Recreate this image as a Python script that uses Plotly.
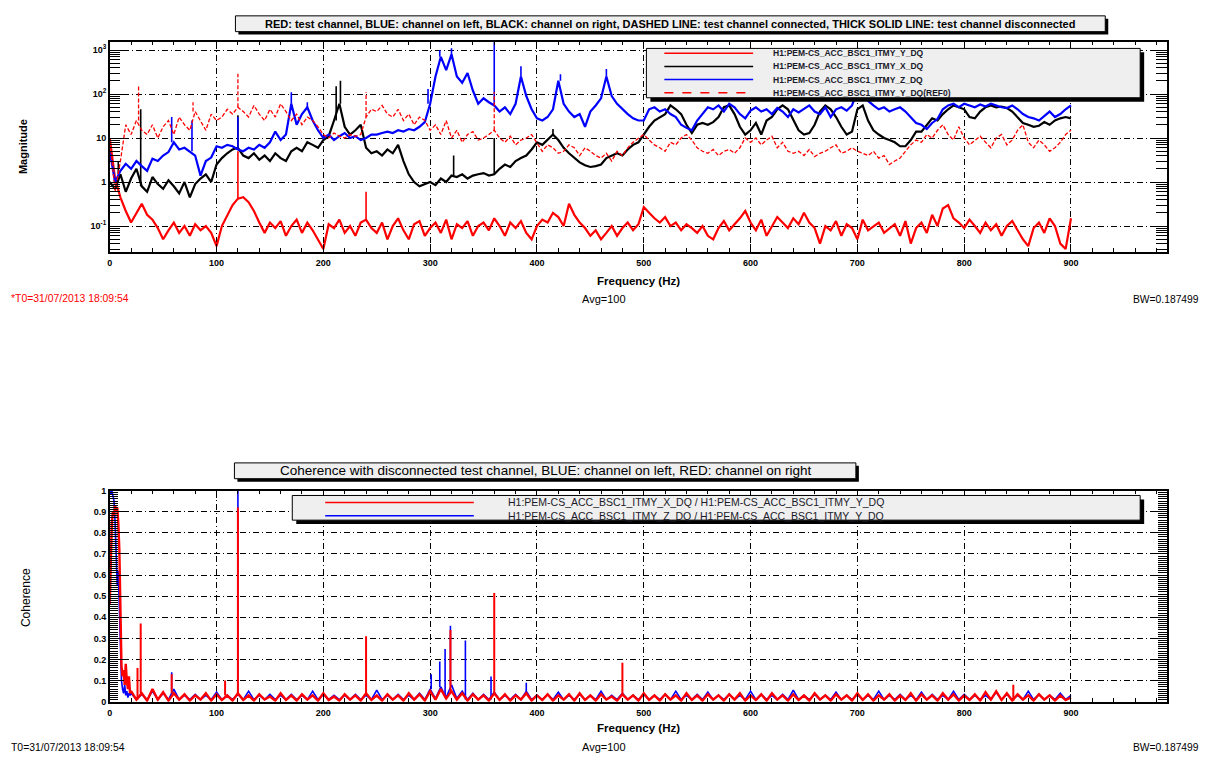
import numpy as np
import plotly.graph_objects as go

W, H = 1210, 761

# ---------------- magnitude spectra (values every 5 Hz, 0..900 Hz) ----------------
freq = list(range(0, 901, 5))

# H1:PEM-CS_ACC_BSC1_ITMY_Y_DQ, test channel disconnected
mag_y = [10, 1.2, 0.45, 0.22, 0.12, 0.2, 0.32, 0.18, 0.14, 0.09,
         0.05, 0.08, 0.12, 0.07, 0.1, 0.06, 0.11, 0.08, 0.1, 0.07,
         0.035, 0.1, 0.18, 0.3, 0.42, 0.45, 0.35, 0.22, 0.12, 0.07,
         0.12, 0.09, 0.13, 0.06, 0.1, 0.14, 0.07, 0.12, 0.08, 0.05,
         0.03, 0.11, 0.09, 0.14, 0.07, 0.1, 0.06, 0.12, 0.14, 0.09,
         0.07, 0.12, 0.05, 0.1, 0.15, 0.08, 0.05, 0.11, 0.13, 0.06,
         0.09, 0.12, 0.07, 0.14, 0.05, 0.11, 0.09, 0.13, 0.06, 0.1,
         0.12, 0.08, 0.15, 0.1, 0.06, 0.12, 0.09, 0.13, 0.07, 0.05,
         0.1, 0.14, 0.12, 0.2, 0.16, 0.1, 0.32, 0.18, 0.12, 0.09,
         0.06, 0.08, 0.05, 0.07, 0.1, 0.06, 0.09, 0.12, 0.08, 0.11,
         0.27, 0.2, 0.15, 0.12, 0.16, 0.1, 0.12, 0.08, 0.11, 0.09,
         0.07, 0.1, 0.06, 0.05, 0.09, 0.13, 0.08, 0.11, 0.15, 0.22,
         0.12, 0.08, 0.14, 0.06, 0.1, 0.16, 0.12, 0.09, 0.15, 0.11,
         0.2, 0.12, 0.09, 0.04, 0.1, 0.08, 0.13, 0.06, 0.11, 0.09,
         0.05, 0.14, 0.08, 0.1, 0.12, 0.07, 0.09, 0.11, 0.06, 0.13,
         0.04, 0.09, 0.12, 0.07, 0.18, 0.1, 0.25, 0.3, 0.15, 0.12,
         0.09, 0.14, 0.1, 0.07, 0.12, 0.08, 0.11, 0.06, 0.1, 0.13,
         0.08, 0.05, 0.035, 0.09, 0.12, 0.07, 0.15, 0.1, 0.04, 0.03,
         0.15]

# H1:PEM-CS_ACC_BSC1_ITMY_X_DQ (channel on right)
mag_x = [1.0, 0.7, 1.5, 0.6, 1.2, 2.0, 0.8, 0.6, 1.3, 0.9,
         0.7, 1.1, 0.8, 0.55, 1.0, 0.45, 0.9, 1.2, 1.5, 1.0,
         2.5, 3.5, 4.5, 5.5, 6.0, 4.0, 3.5, 4.5, 3.2, 4.0,
         3.0, 4.5, 3.5, 3.0, 5.0, 6.0, 5.0, 8.0, 7.0, 6.0,
         9.0, 11, 25, 60, 18, 12, 15, 20, 6.0, 4.5,
         5.0, 4.0, 5.5, 4.5, 7.0, 3.0, 1.5, 1.0, 0.8, 0.9,
         1.0, 0.85, 1.2, 1.0, 1.4, 1.3, 1.5, 1.2, 1.4, 1.5,
         1.6, 1.4, 1.5, 2.0, 2.5, 2.2, 3.0, 3.5, 4.0, 5.5,
         8.0, 7.0, 9.0, 12, 9.0, 6.0, 4.5, 3.5, 2.8, 2.4,
         2.2, 2.3, 2.5, 3.5, 4.0, 4.5, 4.0, 5.5, 7.0, 8.0,
         12, 18, 25, 30, 35, 55, 45, 35, 20, 13,
         20, 22, 20, 23, 30, 50, 55, 35, 18, 12,
         15, 22, 12, 25, 30, 45, 55, 45, 25, 15,
         12, 13, 20, 40, 55, 45, 30, 18, 12, 14,
         45, 55, 25, 15, 12, 10, 9.0, 8.0, 6.5, 6.5,
         9.0, 14, 14, 20, 28, 25, 35, 45, 55, 50,
         45, 30, 28, 40, 50, 55, 50, 52, 48, 40,
         30, 22, 20, 18, 19, 23, 20, 25, 28, 30,
         28]

# H1:PEM-CS_ACC_BSC1_ITMY_Z_DQ (channel on left)
mag_z = [5.0, 1.0, 1.8, 2.6, 2.0, 3.0, 2.3, 1.8, 3.4, 3.0,
         4.0, 4.8, 8.0, 5.5, 6.0, 5.0, 4.0, 1.4, 3.0, 3.6,
         6.5, 6.0, 7.0, 6.5, 5.5, 5.0, 6.0, 5.5, 7.0, 6.0,
         8.0, 14, 9.0, 12, 60, 20, 35, 50, 25, 15,
         10, 12, 9.0, 11, 13, 10, 11, 9.0, 10, 12,
         12, 13, 14, 13, 15, 14, 16, 15, 18, 23,
         60, 250, 700, 350, 800, 250, 180, 300, 120, 60,
         80, 65, 55, 40, 50, 35, 60, 250, 90, 45,
         28, 25, 30, 45, 200, 60, 40, 30, 35, 18,
         40, 55, 80, 250, 90, 60, 45, 35, 28, 25,
         25, 45, 50, 40, 45, 35, 30, 20, 17, 15,
         25, 35, 50, 45, 55, 40, 60, 50, 35, 28,
         42, 50, 40, 45, 35, 48, 40, 30, 45, 38,
         45, 55, 40, 35, 50, 30, 45, 50, 42, 55,
         120, 90, 70, 55, 45, 50, 40, 45, 50, 40,
         30, 22, 20, 16, 22, 27, 45, 55, 60, 50,
         60, 55, 50, 58, 52, 60, 55, 50, 48, 55,
         45, 35, 30, 28, 25, 32, 40, 30, 35, 45,
         55]

# H1:PEM-CS_ACC_BSC1_ITMY_Y_DQ(REF0), test channel connected
mag_y_ref = [10, 0.6, 3.0, 20, 12, 25, 15, 12, 20, 10,
             18, 25, 12, 30, 20, 15, 40, 25, 15, 35,
             25, 30, 45, 35, 50, 40, 30, 55, 35, 25,
             45, 30, 60, 40, 25, 35, 20, 30, 25, 18,
             12, 10, 13, 11, 10, 12, 11, 12, 30, 45,
             40, 55, 35, 30, 45, 25, 35, 20, 30, 25,
             15, 20, 12, 25, 10, 15, 8.0, 12, 14, 9.0,
             10, 12, 15, 10, 8.0, 11, 7.0, 9.0, 10, 12,
             8.0, 5.0, 7.0, 6.0, 4.5, 5.0, 7.0, 6.0, 4.0, 6.0,
             5.0, 4.0, 3.5, 4.5, 3.0, 5.0, 4.0, 6.0, 8.0, 10,
             12, 9.0, 7.0, 6.0, 5.0, 8.0, 7.0, 10, 12, 9.0,
             6.0, 5.0, 4.5, 5.5, 4.0, 5.0, 5.5, 4.5, 6.0, 10,
             8.0, 10, 7.0, 9.0, 11, 6.0, 8.0, 5.0, 4.5, 5.0,
             4.0, 5.5, 3.8, 4.5, 5.0, 6.0, 7.0, 4.5, 5.0, 6.0,
             5.0, 4.5, 4.0, 5.0, 3.5, 4.0, 2.5, 3.0, 3.5, 5.0,
             7.0, 9.0, 8.0, 12, 10, 15, 20, 12, 9.0, 18,
             10, 7.0, 9.0, 11, 8.0, 6.0, 10, 12, 7.0, 9.0,
             15, 20, 8.0, 6.0, 9.0, 7.0, 5.0, 6.0, 8.0, 12,
             15]

# narrow spectral lines: (frequency Hz, peak magnitude)
lines_y = [(120, 5.0), (240, 0.6)]
lines_x = [(8, 3.0), (29, 45), (120, 33), (212, 150), (216, 200), (322, 4.0),
           (360, 10), (415, 16)]
lines_z = [(58, 30), (77, 25), (120, 30), (170, 110), (185, 65), (298, 130),
           (309, 1000), (320, 1100), (360, 1500), (385, 430), (422, 280), (465, 370)]
lines_y_ref = [(27, 150), (78, 65), (120, 290), (240, 110), (360, 110)]

# ---------------- coherence (1 Hz steps below 20 Hz, 5 Hz above) ----------------
coh_freq = list(range(0, 20)) + list(range(20, 901, 5))

# X_DQ / Y_DQ
coh_xy = [0.46, 0.65, 0.85, 0.9, 0.88, 0.93, 0.9, 0.92, 0.85, 0.72,
          0.45, 0.17, 0.12, 0.15, 0.08, 0.18, 0.1, 0.06, 0.12, 0.04,
          0.05, 0.01, 0.04, 0.005, 0.06, 0.01, 0.045, 0.005, 0.04, 0.01,
          0.035, 0.005, 0.03, 0.01, 0.04, 0.005, 0.035, 0.008, 0.03, 0.005,
          0.04, 0.008, 0.03, 0.005, 0.035, 0.01, 0.025, 0.005, 0.04, 0.008,
          0.03, 0.005, 0.035, 0.01, 0.03, 0.005, 0.04, 0.008, 0.025, 0.005,
          0.035, 0.01, 0.03, 0.005, 0.04, 0.008, 0.03, 0.005, 0.035, 0.01,
          0.03, 0.005, 0.04, 0.01, 0.035, 0.005, 0.05, 0.01, 0.06, 0.015,
          0.05, 0.01, 0.04, 0.005, 0.035, 0.01, 0.03, 0.005, 0.04, 0.008,
          0.035, 0.005, 0.03, 0.01, 0.04, 0.005, 0.03, 0.008, 0.035, 0.005,
          0.03, 0.01, 0.035, 0.005, 0.04, 0.008, 0.03, 0.005, 0.035, 0.01,
          0.025, 0.005, 0.035, 0.01, 0.03, 0.005, 0.04, 0.008, 0.03, 0.005,
          0.035, 0.01, 0.03, 0.005, 0.04, 0.008, 0.03, 0.005, 0.035, 0.01,
          0.03, 0.005, 0.035, 0.01, 0.04, 0.005, 0.03, 0.008, 0.035, 0.005,
          0.04, 0.01, 0.03, 0.005, 0.035, 0.008, 0.03, 0.005, 0.04, 0.01,
          0.03, 0.005, 0.035, 0.01, 0.03, 0.005, 0.04, 0.008, 0.035, 0.005,
          0.03, 0.01, 0.035, 0.005, 0.03, 0.008, 0.04, 0.005, 0.035, 0.01,
          0.03, 0.005, 0.04, 0.01, 0.035, 0.005, 0.03, 0.008, 0.035, 0.005,
          0.045, 0.01, 0.05, 0.008, 0.04, 0.005, 0.035, 0.01, 0.03, 0.005,
          0.035, 0.01, 0.03, 0.005, 0.03, 0.008, 0.02]

# Z_DQ / Y_DQ
coh_zy = [1.0, 0.98, 1.0, 0.97, 0.95, 0.85, 0.7, 0.55, 0.62, 0.4,
          0.2, 0.1, 0.06, 0.04, 0.08, 0.03, 0.05, 0.02, 0.04, 0.03,
          0.04, 0.01, 0.035, 0.01, 0.05, 0.01, 0.04, 0.01, 0.06, 0.01,
          0.03, 0.01, 0.035, 0.01, 0.03, 0.01, 0.045, 0.01, 0.03, 0.01,
          0.035, 0.01, 0.05, 0.01, 0.03, 0.01, 0.035, 0.01, 0.03, 0.01,
          0.035, 0.01, 0.03, 0.01, 0.05, 0.01, 0.035, 0.01, 0.03, 0.01,
          0.03, 0.01, 0.035, 0.01, 0.03, 0.01, 0.055, 0.01, 0.03, 0.01,
          0.035, 0.01, 0.03, 0.01, 0.04, 0.01, 0.06, 0.015, 0.07, 0.02,
          0.08, 0.015, 0.05, 0.01, 0.04, 0.01, 0.035, 0.01, 0.045, 0.01,
          0.03, 0.01, 0.035, 0.01, 0.05, 0.01, 0.03, 0.01, 0.035, 0.01,
          0.045, 0.01, 0.03, 0.01, 0.035, 0.01, 0.03, 0.01, 0.05, 0.01,
          0.03, 0.01, 0.04, 0.01, 0.03, 0.01, 0.035, 0.01, 0.03, 0.01,
          0.035, 0.01, 0.05, 0.01, 0.03, 0.01, 0.035, 0.01, 0.045, 0.01,
          0.03, 0.01, 0.035, 0.01, 0.03, 0.01, 0.05, 0.01, 0.035, 0.01,
          0.03, 0.01, 0.035, 0.01, 0.055, 0.01, 0.03, 0.01, 0.035, 0.01,
          0.03, 0.01, 0.045, 0.01, 0.03, 0.01, 0.035, 0.01, 0.03, 0.01,
          0.05, 0.01, 0.03, 0.01, 0.035, 0.01, 0.03, 0.01, 0.045, 0.01,
          0.035, 0.01, 0.03, 0.01, 0.05, 0.01, 0.035, 0.01, 0.03, 0.01,
          0.03, 0.01, 0.045, 0.01, 0.035, 0.01, 0.03, 0.01, 0.05, 0.01,
          0.035, 0.01, 0.03, 0.01, 0.04, 0.01, 0.03]

coh_lines_xy = [(26, 0.16), (29, 0.37), (58, 0.13), (108, 0.1), (120, 0.92),
                (240, 0.31), (319, 0.34), (360, 0.515), (480, 0.185), (846, 0.08)]
coh_lines_zy = [(58, 0.14), (120, 1.0), (301, 0.13), (309, 0.19), (314, 0.25),
                (319, 0.36), (333, 0.29), (357, 0.12), (390, 0.09)]

# ---------------- labels ----------------
mag_names = ["H1:PEM-CS_ACC_BSC1_ITMY_Y_DQ", "H1:PEM-CS_ACC_BSC1_ITMY_X_DQ",
             "H1:PEM-CS_ACC_BSC1_ITMY_Z_DQ", "H1:PEM-CS_ACC_BSC1_ITMY_Y_DQ(REF0)"]
coh_names = ["H1:PEM-CS_ACC_BSC1_ITMY_X_DQ / H1:PEM-CS_ACC_BSC1_ITMY_Y_DQ",
             "H1:PEM-CS_ACC_BSC1_ITMY_Z_DQ / H1:PEM-CS_ACC_BSC1_ITMY_Y_DQ"]
title_mag = ("RED: test channel, BLUE: channel on left, BLACK: channel on right, "
             "DASHED LINE: test channel connected, THICK SOLID LINE: test channel disconnected")
title_coh = "Coherence with disconnected test channel, BLUE: channel on left, RED: channel on right"
t0_text = "T0=31/07/2013 18:09:54"
avg_text = "Avg=100"
bw_text = "BW=0.187499"
mag_ticks = [0.1, 1, 10, 100, 1000]
mag_ticktext = ["10<sup>-1</sup>", "1", "10", "10<sup>2</sup>", "10<sup>3</sup>"]

RED, BLUE, BLACK = "#ff0000", "#0000ff", "#000000"
FONT = "Liberation Sans"


def px(x):
    return x / W


def py(y):
    return 1 - y / H


def nearest(grid, vals, f):
    i = int(np.argmin(np.abs(np.asarray(grid, dtype=float) - f)))
    return vals[i]


def spike_trace(grid, vals, lines, color, width, xa, ya, dash="solid"):
    xs, ys = [], []
    for f, v in lines:
        xs += [f, f, None]
        ys += [nearest(grid, vals, f), v, None]
    return go.Scatter(x=xs, y=ys, mode="lines", xaxis=xa, yaxis=ya, showlegend=False,
                      hoverinfo="skip", line=dict(color=color, width=width, dash=dash))


fig = go.Figure()

# magnitude panel
REF_DASH = "4px,2px"
mag_series = [(mag_y, lines_y, RED, 2.2, "solid"),
              (mag_x, lines_x, BLACK, 2.2, "solid"),
              (mag_z, lines_z, BLUE, 2.2, "solid"),
              (mag_y_ref, lines_y_ref, RED, 1.3, REF_DASH)]
for (vals, lines, color, width, dash), name in zip(mag_series, mag_names):
    fig.add_trace(go.Scatter(x=freq, y=vals, mode="lines", name=name, xaxis="x", yaxis="y",
                             showlegend=False, line=dict(color=color, width=width, dash=dash)))
    fig.add_trace(spike_trace(freq, vals, lines, color, 1.6 if dash == "solid" else 1.3,
                              "x", "y", dash))

# coherence panel (blue drawn first, red on top)
fig.add_trace(go.Scatter(x=coh_freq, y=coh_zy, mode="lines", name=coh_names[1],
                         xaxis="x2", yaxis="y2", showlegend=False,
                         line=dict(color=BLUE, width=1.6)))
fig.add_trace(spike_trace(coh_freq, coh_zy, coh_lines_zy, BLUE, 1.6, "x2", "y2"))
fig.add_trace(go.Scatter(x=coh_freq, y=coh_xy, mode="lines", name=coh_names[0],
                         xaxis="x2", yaxis="y2", showlegend=False,
                         line=dict(color=RED, width=2.4)))
fig.add_trace(spike_trace(coh_freq, coh_xy, coh_lines_xy, RED, 2.0, "x2", "y2"))

GRID_DASH = "6px,3px,1px,3px"
tickfont = dict(family=FONT, size=9, color="black", weight="bold")

xaxis_common = dict(range=[0, 990], domain=[px(107), px(1167)], tick0=0, dtick=100,
                    ticks="inside", ticklen=8, tickwidth=1, tickcolor="black",
                    minor=dict(dtick=20, ticks="inside", ticklen=4, tickcolor="black",
                               showgrid=False),
                    showline=True, linecolor="black", linewidth=1.5, mirror="allticks",
                    showgrid=True, gridcolor="black", gridwidth=1, griddash=GRID_DASH,
                    zeroline=False, tickfont=tickfont, ticklabelstandoff=2)

minor_log = [m * 10.0 ** e for e in range(-2, 4) for m in range(2, 10)]

fig.update_layout(
    width=W, height=H, margin=dict(l=0, r=0, t=0, b=0),
    paper_bgcolor="white", plot_bgcolor="white", showlegend=False,
    xaxis=dict(anchor="y", **xaxis_common),
    yaxis=dict(anchor="x", type="log", range=[-1.583, 3.193], domain=[py(250), py(37)],
               tickvals=mag_ticks, ticktext=mag_ticktext,
               ticks="inside", ticklen=15, tickcolor="black",
               minor=dict(tickvals=minor_log, ticks="inside", ticklen=11, tickcolor="black",
                          showgrid=False),
               showline=True, linecolor="black", linewidth=1.5, mirror="allticks",
               showgrid=True, gridcolor="black", gridwidth=1, griddash=GRID_DASH,
               zeroline=False, tickfont=tickfont),
    xaxis2=dict(anchor="y2", **xaxis_common),
    yaxis2=dict(anchor="x2", range=[0, 1], domain=[py(706), py(492)], tick0=0, dtick=0.1,
                ticks="inside", ticklen=15, tickcolor="black",
                minor=dict(dtick=0.01, ticks="inside", ticklen=9, tickcolor="black",
                           showgrid=False),
                showline=True, linecolor="black", linewidth=1.5, mirror="allticks",
                showgrid=True, gridcolor="black", gridwidth=1, griddash=GRID_DASH,
                zeroline=False, tickfont=tickfont),
)

shapes = []
annotations = []


def box(x0, y0, x1, y1, shadow=3, fill="#efefef"):
    shapes.append(dict(type="rect", xref="paper", yref="paper", layer="above",
                       x0=px(x0 + shadow), x1=px(x1 + shadow), y0=py(y1 + shadow), y1=py(y0 + shadow),
                       fillcolor="black", line=dict(width=0)))
    shapes.append(dict(type="rect", xref="paper", yref="paper", layer="above",
                       x0=px(x0), x1=px(x1), y0=py(y1), y1=py(y0),
                       fillcolor=fill, line=dict(color="black", width=1)))


def text(x, y, s, size, color="black", weight="normal", xanchor="center", angle=0):
    annotations.append(dict(x=px(x), y=py(y), xref="paper", yref="paper", text=s,
                            showarrow=False, xanchor=xanchor, yanchor="middle", textangle=angle,
                            font=dict(family=FONT, size=size, color=color, weight=weight)))


def sample(x0, x1, y, color, dash="solid", width=1.5):
    shapes.append(dict(type="line", xref="paper", yref="paper", layer="above",
                       x0=px(x0), x1=px(x1), y0=py(y), y1=py(y),
                       line=dict(color=color, width=width, dash=dash)))


# titles
box(233, 11, 1105, 27)
text(669, 19, title_mag, 11, weight="bold")
box(232, 464, 855, 480)
text(544, 472, title_coh, 13.5)

# magnitude legend
box(645, 44, 1140, 94, shadow=4)
mag_styles = [(RED, "solid"), (BLACK, "solid"), (BLUE, "solid"), (RED, "dash")]
for i, ((c, d), name) in enumerate(zip(mag_styles, mag_names)):
    yy = 49 + i * 13.3
    sample(663, 752, yy, c, d)
    text(770, yy, name, 8.5, color="#1a1a2a", weight="bold", xanchor="left")

# coherence legend
box(290, 497, 1140, 522, shadow=4)
for i, (c, name) in enumerate(zip([RED, BLUE], coh_names)):
    yy = 504 + i * 13.5
    sample(323, 472, yy, c)
    text(504, yy, name, 10.5, color="#1a1a2a", xanchor="left")

# axis titles
text(20, 143, "Magnitude", 11, weight="bold", angle=-90)
text(637, 280, "Frequency (Hz)", 11.5, weight="bold")
text(23, 600, "Coherence", 12, angle=-90)
text(637, 733, "Frequency (Hz)", 11.5, weight="bold")

# footers
text(6, 297, "*" + t0_text, 10.4, color=RED, xanchor="left")
text(602, 298, avg_text, 11)
text(1201, 298, bw_text, 10.3, xanchor="right")
text(6, 752, t0_text, 10.4, xanchor="left")
text(602, 752, avg_text, 11)
text(1201, 752, bw_text, 10.3, xanchor="right")

fig.update_layout(shapes=shapes, annotations=annotations)
fig.write_html("out.html")
